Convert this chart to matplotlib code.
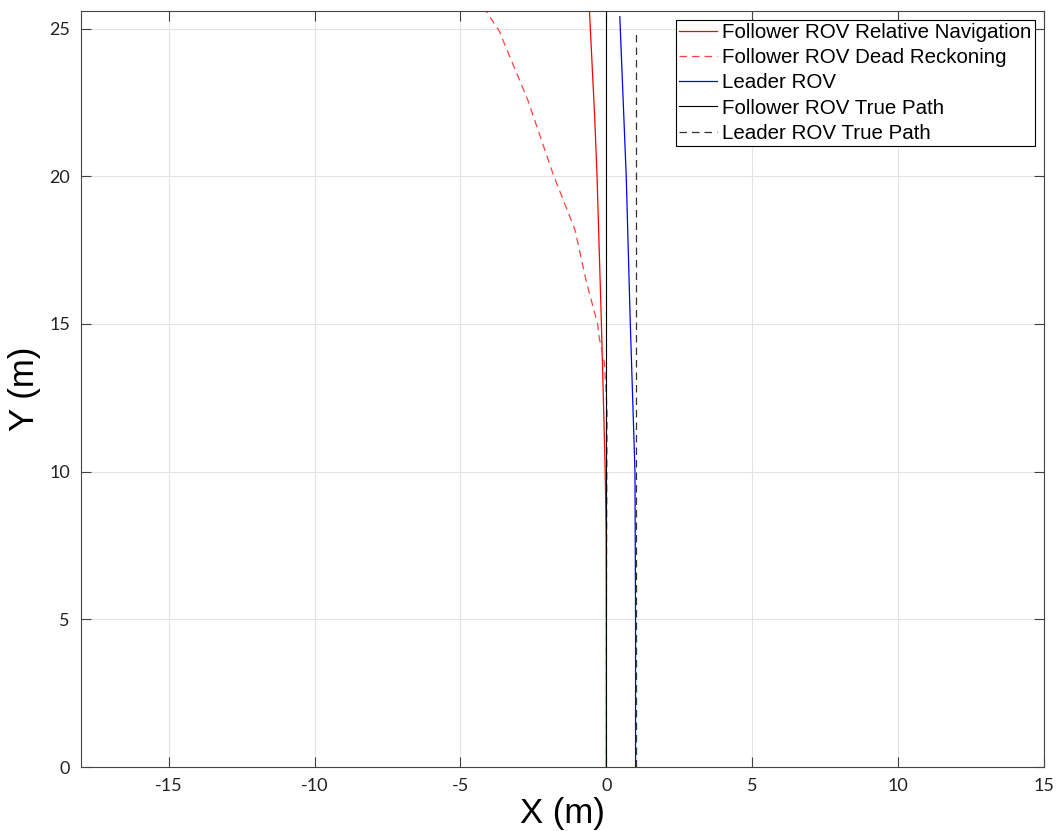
import matplotlib.pyplot as plt

# follower true path (x = 0) and leader true path (x = 1)
follower_true_y = [0, 25.6]
follower_true_x = [0, 0]
leader_true_y = [0, 24.9]
leader_true_x = [1, 1]

# leader ROV estimate
leader_y = [0, 5, 10, 15, 20, 25.4]
leader_x = [1.0, 1.0, 0.98, 0.82, 0.68, 0.46]

# follower relative navigation
relnav_y = [0, 5, 8, 10, 12, 15, 18, 20, 22, 25.6]
relnav_x = [0.0, 0.0, -0.01, -0.04, -0.09, -0.17, -0.26, -0.32, -0.40, -0.58]

# follower dead reckoning
dr_y = [0, 5, 10, 12, 13.7, 14.5, 15, 16.4, 18.2, 20, 22.6, 24.5, 24.9, 25.6]
dr_x = [0.0, 0.0, 0.02, 0.03, -0.07, -0.24, -0.3, -0.68, -1.08, -1.8, -2.7, -3.5, -3.66, -4.13]

labels = ['Follower ROV Relative Navigation', 'Follower ROV Dead Reckoning',
          'Leader ROV', 'Follower ROV True Path', 'Leader ROV True Path']


def main():
    plt.rcParams['font.family'] = ['Liberation Sans', 'DejaVu Sans']
    plt.rcParams['axes.unicode_minus'] = False
    fig = plt.figure(figsize=(10.59, 8.31), dpi=100)
    ax = fig.add_axes([0.0765, 0.077, 0.9095, 0.910])

    lines = []
    lines += ax.plot(relnav_x, relnav_y, color='#ff0000', lw=0.9)
    lines += ax.plot(dr_x, dr_y, color='#ff4040', lw=0.9, ls=(0, (6, 4)))
    lines += ax.plot(leader_x, leader_y, color='#0000ff', lw=0.9)
    lines += ax.plot(follower_true_x, follower_true_y, color='black', lw=0.8)
    lines += ax.plot(leader_true_x, leader_true_y, color='#333333', lw=0.9, ls=(0, (6, 4)))

    ax.set_xlim(-18, 15)
    ax.set_ylim(0, 25.6)
    ax.set_xticks([-15, -10, -5, 0, 5, 10, 15])
    ax.set_yticks([0, 5, 10, 15, 20, 25])
    ax.grid(True, color='#e3e3e3', lw=0.8)
    ax.set_axisbelow(True)
    ax.tick_params(direction='in', top=True, right=True, labelsize=13,
                   color='#404040', length=7, pad=8)
    for t in ax.get_xticklabels() + ax.get_yticklabels():
        t.set_family(['Lato', 'DejaVu Sans'])
        t.set_color('#222222')
    for s in ax.spines.values():
        s.set_color('#444444')
    ax.set_xlabel('X (m)', fontsize=25, labelpad=2)
    ax.set_ylabel('Y (m)', fontsize=25, labelpad=6)

    leg = ax.legend(lines, labels, loc='upper right', fontsize=14.8, fancybox=False,
                    edgecolor='black', framealpha=1, handlelength=1.85,
                    handletextpad=0.25, borderpad=0.15, labelspacing=0.3,
                    borderaxespad=0.45)
    leg.get_frame().set_linewidth(0.8)

    plt.savefig('out.png', dpi=100)


if __name__ == '__main__':
    main()
